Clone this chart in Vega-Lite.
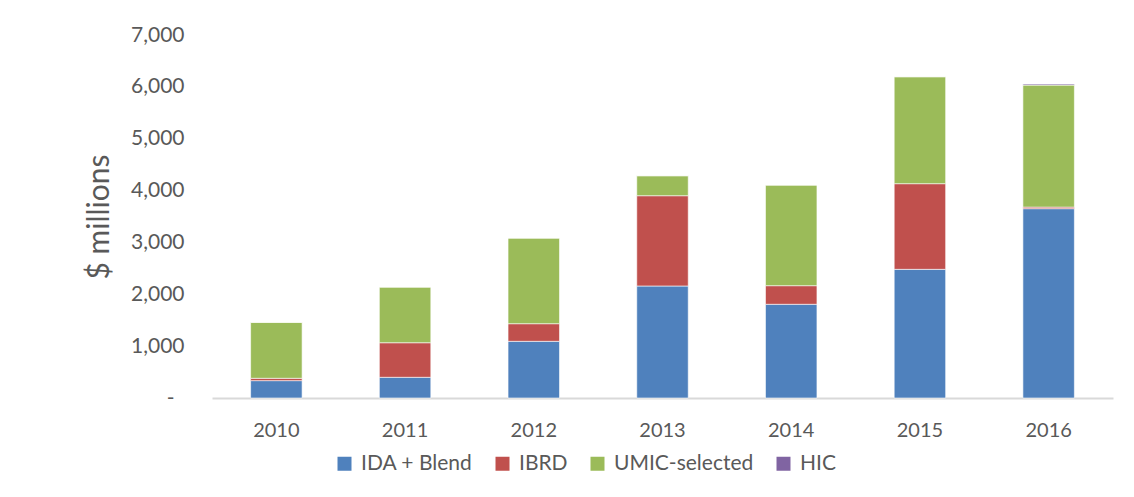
{
  "$schema": "https://vega.github.io/schema/vega-lite/v6.json",
  "width": 901,
  "height": 363,
  "autosize": {"type": "none"},
  "padding": {"left": 212, "top": 35, "right": 21, "bottom": 99},
  "background": "white",
  "data": {
    "values": [
      {"year": "2010", "cat": "IDA + Blend", "v": 335},
      {"year": "2010", "cat": "IBRD", "v": 45},
      {"year": "2010", "cat": "UMIC-selected", "v": 1080},
      {"year": "2010", "cat": "HIC", "v": 0},
      {"year": "2011", "cat": "IDA + Blend", "v": 399},
      {"year": "2011", "cat": "IBRD", "v": 667},
      {"year": "2011", "cat": "UMIC-selected", "v": 1074},
      {"year": "2011", "cat": "HIC", "v": 0},
      {"year": "2012", "cat": "IDA + Blend", "v": 1093},
      {"year": "2012", "cat": "IBRD", "v": 340},
      {"year": "2012", "cat": "UMIC-selected", "v": 1652},
      {"year": "2012", "cat": "HIC", "v": 0},
      {"year": "2013", "cat": "IDA + Blend", "v": 2160},
      {"year": "2013", "cat": "IBRD", "v": 1741},
      {"year": "2013", "cat": "UMIC-selected", "v": 386},
      {"year": "2013", "cat": "HIC", "v": 0},
      {"year": "2014", "cat": "IDA + Blend", "v": 1807},
      {"year": "2014", "cat": "IBRD", "v": 359},
      {"year": "2014", "cat": "UMIC-selected", "v": 1941},
      {"year": "2014", "cat": "HIC", "v": 0},
      {"year": "2015", "cat": "IDA + Blend", "v": 2481},
      {"year": "2015", "cat": "IBRD", "v": 1652},
      {"year": "2015", "cat": "UMIC-selected", "v": 2063},
      {"year": "2015", "cat": "HIC", "v": 0},
      {"year": "2016", "cat": "IDA + Blend", "v": 3651},
      {"year": "2016", "cat": "IBRD", "v": 30},
      {"year": "2016", "cat": "UMIC-selected", "v": 2353},
      {"year": "2016", "cat": "HIC", "v": 20}
    ]
  },
  "transform": [
    {"calculate": "indexof(['IDA + Blend', 'IBRD', 'UMIC-selected', 'HIC'], datum.cat)", "as": "stackOrder"}
  ],
  "mark": {"type": "bar", "stroke": "white", "strokeWidth": 1, "strokeOpacity": 0.6},
  "encoding": {
    "x": {
      "field": "year", "type": "ordinal",
      "scale": {"paddingInner": 0.6, "paddingOuter": 0.3},
      "axis": {"title": null, "labelAngle": 0, "ticks": false, "domainColor": "#d9d9d9", "domainWidth": 2, "labelPadding": 22, "labelFontSize": 20, "labelColor": "#595959", "labelFont": "Lato"}
    },
    "y": {
      "field": "v", "type": "quantitative", "stack": "zero",
      "scale": {"domain": [0, 7000], "nice": false},
      "axis": {"title": "$ millions", "values": [0,1000,2000,3000,4000,5000,6000,7000], "grid": false, "domain": false, "ticks": false, "labelPadding": {"condition": {"test": "datum.value == 0", "value": 38}, "value": 28}, "labelFontSize": 21, "labelColor": "#595959", "labelFont": "Lato", "labelExpr": "datum.value == 0 ? '-' : format(datum.value, ',')", "titleFontSize": 30, "titleFontWeight": "normal", "titleColor": "#595959", "titleFont": "Lato", "titlePadding": 16}
    },
    "order": {"field": "stackOrder", "type": "quantitative", "sort": "ascending"},
    "color": {
      "field": "cat", "type": "nominal",
      "scale": {"domain": ["IDA + Blend", "IBRD", "UMIC-selected", "HIC"], "range": ["#4F81BD", "#C0504D", "#9BBB59", "#8064A2"]},
      "legend": {"title": null, "orient": "none", "legendX": 122, "legendY": 418, "padding": 0, "direction": "horizontal", "symbolType": "square", "symbolSize": 196, "symbolStrokeWidth": 0, "symbolOpacity": 1, "symbolOffset": 0, "labelOffset": 6, "labelFontSize": 21, "labelColor": "#595959", "labelFont": "Lato", "columnPadding": 19}
    }
  },
  "config": {"view": {"stroke": null}}
}
